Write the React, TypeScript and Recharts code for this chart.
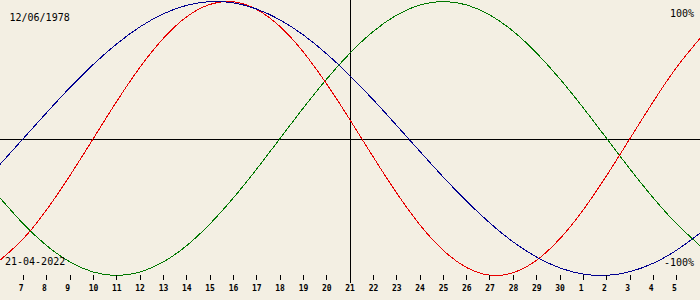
import React from "react";
import { LineChart, Line, XAxis, YAxis, ReferenceLine } from "recharts";

// Day-of-month labels, 6 April .. 6 May (index 15 = 21 April)
const days = [
  "6", "7", "8", "9", "10", "11", "12", "13", "14", "15", "16", "17", "18", "19", "20",
  "21", "22", "23", "24", "25", "26", "27", "28", "29", "30", "1", "2", "3", "4", "5", "6",
];

// Physical cycle (red)
const physical = [
  -0.888, -0.731, -0.52, -0.27, 0, 0.27, 0.52, 0.731, 0.888, 0.979, 0.998, 0.942, 0.817,
  0.631, 0.398, 0.136, -0.136, -0.398, -0.631, -0.817, -0.942, -0.998, -0.979, -0.888,
  -0.731, -0.52, -0.27, 0, 0.27, 0.52, 0.731,
];

// Emotional cycle (green)
const emotional = [
  -0.434, -0.623, -0.782, -0.901, -0.975, -1, -0.975, -0.901, -0.782, -0.623, -0.434,
  -0.223, 0, 0.223, 0.434, 0.623, 0.782, 0.901, 0.975, 1, 0.975, 0.901, 0.782, 0.623,
  0.434, 0.223, 0, -0.223, -0.434, -0.623, -0.782,
];

// Intellectual cycle (blue)
const intellectual = [
  -0.189, 0, 0.189, 0.372, 0.541, 0.69, 0.815, 0.91, 0.972, 0.999, 0.99, 0.945, 0.866,
  0.756, 0.618, 0.458, 0.282, 0.095, -0.095, -0.282, -0.458, -0.618, -0.756, -0.866,
  -0.945, -0.99, -0.999, -0.972, -0.91, -0.815, -0.69,
];

const tickIndexes = days.map((_, i) => i).filter((i) => i > 0 && i < days.length - 1);
const centerIndex = 15;

const birthLabel = "12/06/1978";
const dateLabel = "21-04-2022";
const topLabel = "100%";
const bottomLabel = "-100%";

const data = days.map((day, i) => ({
  x: i,
  day,
  physical: physical[i],
  emotional: emotional[i],
  intellectual: intellectual[i],
}));

const DayTick = (props: any) => {
  const { x, y, payload } = props;
  const label = days[payload.value];
  const px = Math.floor(x) + 0.5;
  return (
    <g>
      <line x1={px} x2={px} y1={y - 0.5} y2={y + 4.5} stroke="#000" strokeWidth={1} />
      <text
        x={x - 4.7}
        y={y + 15.5}
        textAnchor="start"
        fontFamily="'DejaVu Sans Mono', monospace"
        fontSize={8}
        fontWeight="bold"
        fill="#000"
      >
        {label}
      </text>
    </g>
  );
};

const labelFont = "'DejaVu Sans Mono', monospace";

export default function App() {
  return (
    <div
      style={{
        position: "absolute",
        left: 0,
        top: 0,
        width: 700,
        height: 300,
        background: "#f3efe3",
        shapeRendering: "crispEdges",
        overflow: "hidden",
      }}
    >
      <LineChart
        width={700}
        height={300}
        data={data}
        margin={{ top: 1.5, right: 0, bottom: 0, left: 0 }}
      >
        <XAxis
          dataKey="x"
          type="number"
          domain={[0, days.length - 1]}
          ticks={tickIndexes}
          interval={0}
          height={24.5}
          axisLine={false}
          tickLine={false}
          tickSize={0}
          tickMargin={0}
          tick={<DayTick />}
        />
        <YAxis type="number" domain={[-1, 1]} hide />
        <ReferenceLine y={-0.01} stroke="#000" strokeWidth={1} />
        <ReferenceLine
          segment={[
            { x: centerIndex, y: 1.012 },
            { x: centerIndex, y: -1.053 },
          ]}
          ifOverflow="visible"
          stroke="#000"
          strokeWidth={1}
        />
        <Line
          type="natural"
          dataKey="emotional"
          stroke="#007800"
          strokeWidth={1}
          dot={false}
          activeDot={false}
          isAnimationActive={false}
        />
        <Line
          type="natural"
          dataKey="physical"
          stroke="#e80000"
          strokeWidth={1}
          dot={false}
          activeDot={false}
          isAnimationActive={false}
        />
        <Line
          type="natural"
          dataKey="intellectual"
          stroke="#000090"
          strokeWidth={1}
          dot={false}
          activeDot={false}
          isAnimationActive={false}
        />
      </LineChart>
      <svg
        width={700}
        height={300}
        style={{ position: "absolute", left: 0, top: 0, pointerEvents: "none" }}
      >
        <text x={9.5} y={21} fontFamily={labelFont} fontSize={10} fill="#000">
          {birthLabel}
        </text>
        <text x={694} y={16.5} textAnchor="end" fontFamily={labelFont} fontSize={10} fill="#000">
          {topLabel}
        </text>
        <text x={5} y={265} fontFamily={labelFont} fontSize={10} fill="#000">
          {dateLabel}
        </text>
        <text x={694} y={266} textAnchor="end" fontFamily={labelFont} fontSize={10} fill="#000">
          {bottomLabel}
        </text>
      </svg>
    </div>
  );
}
